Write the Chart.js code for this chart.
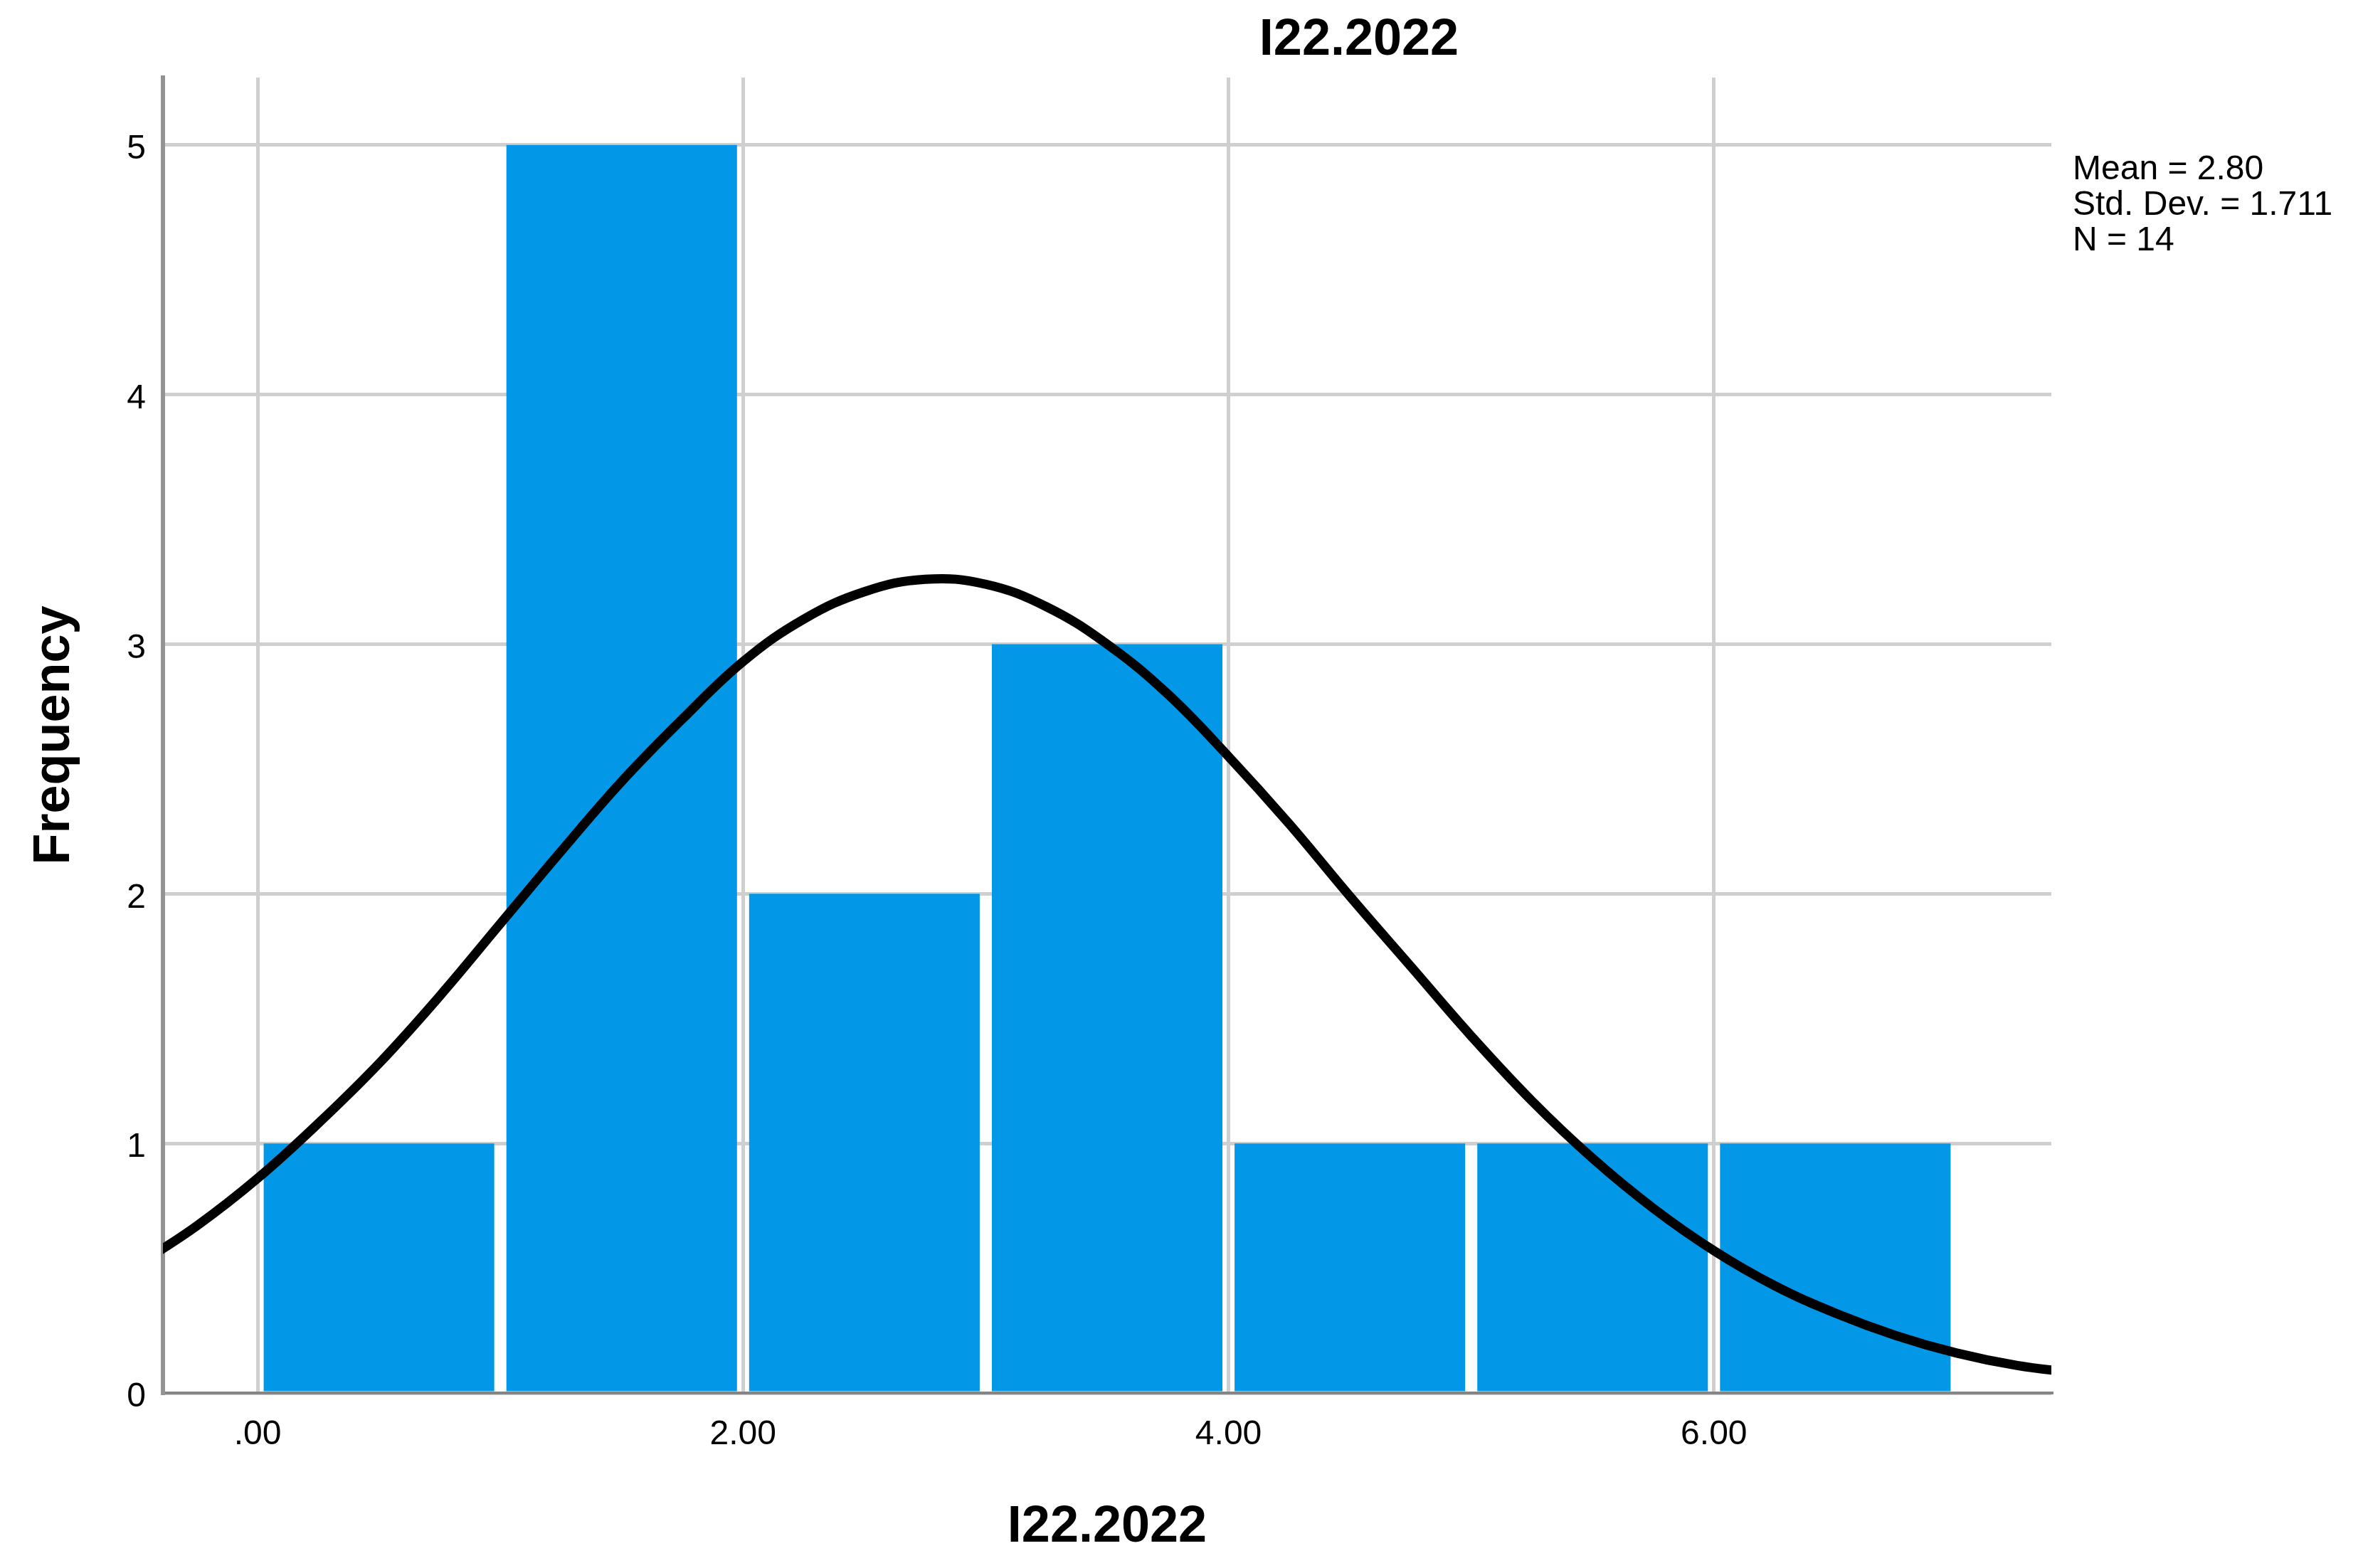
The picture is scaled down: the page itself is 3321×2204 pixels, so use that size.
<!DOCTYPE html>
<html>
<head>
<meta charset="utf-8">
<script src="https://cdn.jsdelivr.net/npm/chart.js@4/dist/chart.umd.min.js"></script>
<style>
  body { margin: 0; background: #fff; }
  canvas { display: block; }
</style>
</head>
<body>
<canvas id="histChart" width="3321" height="2204"></canvas>
<script>
// bins of I22.2022 (start of each bin, width 1)
const binStarts = [0, 1, 2, 3, 4, 5, 6];
const frequencies = [1, 5, 2, 3, 1, 1, 1];

// normal curve, every 0.25
const curveX = [-0.5, -0.25, 0, 0.25, 0.5, 0.75, 1, 1.25, 1.5, 1.75, 2, 2.25, 2.5, 2.75, 3, 3.25, 3.5, 3.75, 4, 4.25, 4.5, 4.75, 5, 5.25, 5.5, 5.75, 6, 6.25, 6.5, 6.75, 7, 7.25, 7.5];
const curveY = [0.51, 0.67, 0.86, 1.08, 1.32, 1.59, 1.88, 2.17, 2.45, 2.70, 2.93, 3.10, 3.21, 3.26, 3.24, 3.15, 3.0, 2.80, 2.55, 2.28, 1.99, 1.71, 1.43, 1.17, 0.94, 0.74, 0.57, 0.43, 0.32, 0.23, 0.16, 0.11, 0.08];

const xTickValues = [0, 2, 4, 6];
const xTickLabels = [".00", "2.00", "4.00", "6.00"];
const yTickValues = [0, 1, 2, 3, 4, 5];

const statLines = ["Mean = 2.80", "Std. Dev. = 1.711", "N = 14"];
const chartTitle = "I22.2022";

const FONT = "'Liberation Sans', Arial, sans-serif";

const barData = binStarts.map((b, i) => ({ x: b + 0.5, y: frequencies[i] }));
const curveData = curveX.map((x, i) => ({ x: x, y: curveY[i] }));

const extraText = {
  id: "extraText",
  beforeDraw(chart) {
    const c = chart.ctx;
    c.save();
    c.fillStyle = "#fff";
    c.fillRect(0, 0, chart.width, chart.height);
    c.restore();
  },
  afterDraw(chart) {
    const c = chart.ctx;
    c.save();
    c.fillStyle = "#000";
    c.textBaseline = "alphabetic";
    c.textAlign = "center";
    c.font = "bold 72px " + FONT;
    c.fillText(chartTitle, 1910, 77);
    c.textAlign = "left";
    c.font = "48px " + FONT;
    statLines.forEach((t, i) => c.fillText(t, 2913, 252 + i * 50));
    c.restore();
  },
};

const ctx = document.getElementById("histChart").getContext("2d");
const histChart = new Chart(ctx, {
  type: "bar",
  data: {
    datasets: [
      {
        type: "line",
        data: curveData,
        borderColor: "#000",
        borderWidth: 13,
        pointRadius: 0,
        tension: 0.4,
        fill: false,
        clip: 0,
        order: 0,
      },
      {
        type: "bar",
        data: barData,
        backgroundColor: "#0397E7",
        borderWidth: 0,
        categoryPercentage: 1,
        barPercentage: 0.95,
        order: 1,
      },
    ],
  },
  options: {
    responsive: false,
    devicePixelRatio: 1,
    animation: false,
    layout: { padding: { left: 0, top: 109, right: 438, bottom: 0 } },
    plugins: {
      legend: { display: false },
      tooltip: { enabled: false },
    },
    scales: {
      x: {
        type: "linear",
        min: -0.39,
        max: 7.39,
        offset: false,
        afterBuildTicks: (scale) => {
          scale.ticks = xTickValues.map((v) => ({ value: v }));
        },
        afterFit: (scale) => {
          scale.height = 246;
        },
        grid: { color: "#cfcfcf", lineWidth: 5, drawTicks: false, offset: false },
        border: { color: "#858585", width: 4 },
        ticks: {
          font: { family: FONT, size: 48 },
          color: "#000",
          padding: 30,
          maxRotation: 0,
          callback: (v) => xTickLabels[xTickValues.indexOf(v)],
        },
        title: {
          display: true,
          text: "I22.2022",
          font: { family: FONT, size: 72, weight: "bold" },
          color: "#000",
          padding: { top: 0, bottom: 14 },
        },
      },
      y: {
        min: 0,
        max: 5.27,
        afterBuildTicks: (scale) => {
          scale.ticks = yTickValues.map((v) => ({ value: v }));
        },
        afterFit: (scale) => {
          scale.width = 229;
        },
        grid: { color: "#cfcfcf", lineWidth: 5, drawTicks: false },
        border: { color: "#939393", width: 6 },
        ticks: {
          font: { family: FONT, size: 48 },
          color: "#000",
          padding: 24,
          labelOffset: 6,
          callback: (v) => String(v),
        },
        title: {
          display: true,
          text: "Frequency",
          font: { family: FONT, size: 72, weight: "bold" },
          color: "#000",
          padding: { top: 34, bottom: 0 },
        },
      },
    },
  },
  plugins: [extraText],
});
</script>
</body>
</html>
